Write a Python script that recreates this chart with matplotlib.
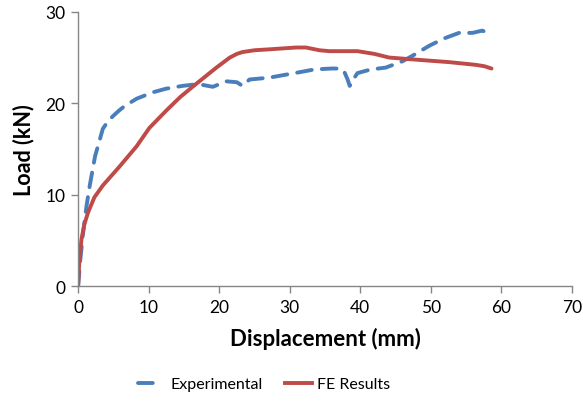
import matplotlib.pyplot as plt
from matplotlib.lines import Line2D
import numpy as np

# Experimental curve
exp_x = [0, 0.3, 0.7, 1.2, 1.65, 2.4, 3.1, 3.5, 4.2, 4.95, 5.8, 6.6, 8.3, 10.6, 12.5, 14.8,
         17.0, 19.1, 21.0, 22.5, 23.3, 24.3, 27.1, 31.4, 33.5, 35.9, 37.2, 37.7, 38.2,
         38.5, 39.0, 39.6, 41.5, 43.6, 46.0, 47.4, 49.8, 51.9, 54.0, 55.9, 57.3, 58.0]
exp_y = [0, 2.8, 5.8, 8.8, 11.0, 14.2, 16.1, 17.2, 18.0, 18.6, 19.2, 19.7, 20.5, 21.2, 21.6,
         21.9, 22.1, 21.8, 22.4, 22.3, 21.9, 22.6, 22.8, 23.4, 23.7, 23.8, 23.8, 23.5, 22.6,
         21.9, 22.6, 23.3, 23.7, 23.9, 24.6, 25.2, 26.3, 27.1, 27.7, 27.7, 27.95, 27.7]

# FE results curve
fe_x = [0, 0.15, 0.47, 0.9, 1.42, 2.3, 3.5, 5.9, 8.3, 10.1, 12.5, 14.5, 16.7, 19.6, 21.5,
        22.5, 23.3, 25.0, 27.1, 30.9, 32.3, 34.2, 35.6, 39.6, 42.0, 44.1, 47.4, 52.6,
        56.4, 57.6, 58.6]
fe_y = [0, 2.5, 5.1, 6.8, 8.07, 9.7, 11.0, 13.1, 15.3, 17.3, 19.2, 20.7, 22.1, 23.9, 25.0,
        25.4, 25.6, 25.8, 25.9, 26.1, 26.1, 25.8, 25.7, 25.7, 25.4, 25.0, 24.8, 24.5,
        24.2, 24.05, 23.8]

blue = '#4A7EBB'
red = '#BE4B48'

plt.rcParams['font.family'] = ['Lato', 'DejaVu Sans']

fig = plt.figure(figsize=(5.83, 4.02), dpi=100)
ax = fig.add_axes([0.134, 0.286, 0.847, 0.682])

ax.plot(exp_x, exp_y, color=blue, lw=2.8, dashes=(3.8, 2.6),
        dash_capstyle='round', solid_joinstyle='round')
ax.plot(fe_x, fe_y, color=red, lw=2.8, solid_capstyle='round',
        solid_joinstyle='round')

ax.set_xlim(0, 70)
ax.set_ylim(0, 30)
ax.set_xticks(np.arange(0, 71, 10))
ax.set_yticks([0, 10, 20, 30])

for s in ['top', 'right']:
    ax.spines[s].set_visible(False)
for s in ['left', 'bottom']:
    ax.spines[s].set_color('#868686')
    ax.spines[s].set_linewidth(1.0)
ax.tick_params(direction='out', length=5, width=1, color='#868686',
               labelsize=12.5, labelcolor='#000000', pad=4)

ax.set_xlabel('Displacement (mm)', fontsize=16, fontweight='bold', labelpad=9)
ax.set_ylabel('Load (kN)', fontsize=15.5, fontweight='bold', labelpad=8)

# legend handles: blue shows a single dash like the original
h_exp = Line2D([], [], color=blue, lw=2.8, dashes=(3.8, 10), dash_capstyle='round')
h_fe = Line2D([], [], color=red, lw=2.8)
fig.legend([h_exp, h_fe], ['Experimental', 'FE Results'], loc='lower center',
           bbox_to_anchor=(0.453, -0.012), ncol=2, frameon=False,
           fontsize=11.5, handlelength=1.7, handletextpad=0.3, columnspacing=1.4)

fig.savefig('out.png', dpi=100)
